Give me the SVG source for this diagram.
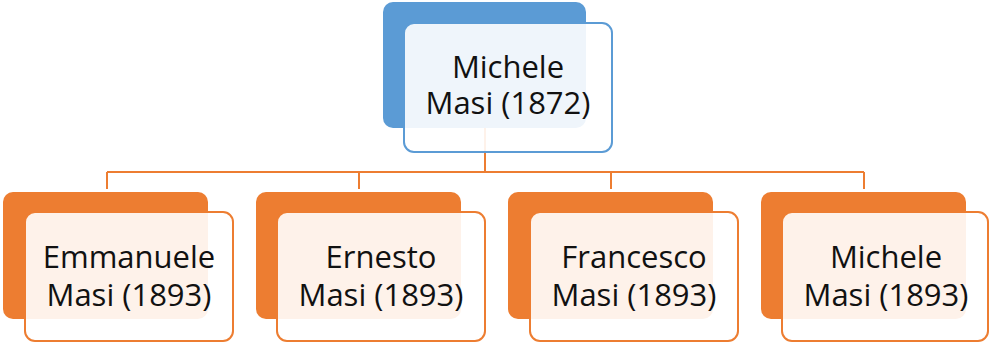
<svg xmlns="http://www.w3.org/2000/svg" width="990" height="343" viewBox="0 0 990 343">
<style>
.bb{fill:#5b9bd5}
.bf{fill:#ffffff;fill-opacity:0.9;stroke:#5b9bd5;stroke-width:2}
.ob{fill:#ed7d31}
.of{fill:#ffffff;fill-opacity:0.9;stroke:#ed7d31;stroke-width:2}
.t{font-family:"Open Sans","Liberation Sans",sans-serif;font-size:31px;fill:#111111;text-anchor:middle}
.c{fill:none;stroke:#ed7d31;stroke-width:2}
</style>
<rect width="990" height="343" fill="#ffffff"/>
<g id="connectors">
<path class="c" d="M485 128V172M107 172H864M107 172V189M359 172V189M611 172V189M864 172V189"/>
</g>
<g id="root">
<rect class="bb" x="383" y="2" width="203" height="126" rx="10"/>
<rect class="bf" x="404" y="23" width="208" height="129" rx="10"/>
<text class="t" x="508" y="78">Michele</text>
<text class="t" x="508" y="114">Masi (1872)</text>
</g>
<g id="child1">
<rect class="ob" x="3" y="192" width="205" height="127" rx="10"/>
<rect class="of" x="25" y="212" width="208" height="129" rx="10"/>
<text class="t" x="129" y="268">Emmanuele</text>
<text class="t" x="129" y="306">Masi (1893)</text>
</g>
<g id="child2">
<rect class="ob" x="256" y="192" width="205" height="127" rx="10"/>
<rect class="of" x="277" y="212" width="208" height="129" rx="10"/>
<text class="t" x="381" y="268">Ernesto</text>
<text class="t" x="381" y="306">Masi (1893)</text>
</g>
<g id="child3">
<rect class="ob" x="508" y="192" width="205" height="127" rx="10"/>
<rect class="of" x="530" y="212" width="208" height="129" rx="10"/>
<text class="t" x="634" y="268">Francesco</text>
<text class="t" x="634" y="306">Masi (1893)</text>
</g>
<g id="child4">
<rect class="ob" x="761" y="192" width="205" height="127" rx="10"/>
<rect class="of" x="782" y="212" width="206" height="129" rx="10"/>
<text class="t" x="886" y="268">Michele</text>
<text class="t" x="886" y="306">Masi (1893)</text>
</g>
</svg>
